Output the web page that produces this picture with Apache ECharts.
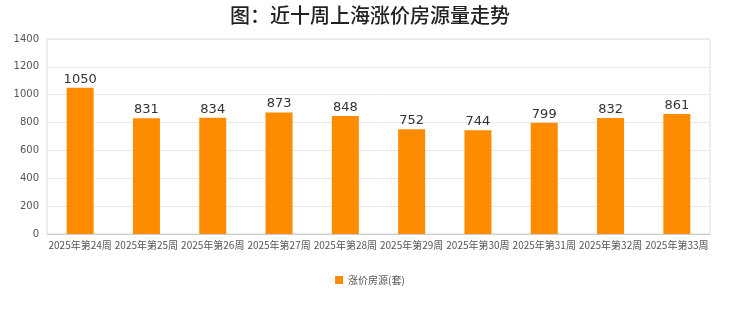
<!DOCTYPE html>
<html><head><meta charset="utf-8">
<script src="https://cdn.jsdelivr.net/npm/echarts@6/dist/echarts.min.js"></script>
<style>html,body{margin:0;padding:0;background:#fff}#c{width:740px;height:312px}</style>
</head><body><div id="c"></div>
<script>
const categories = ['2025年第24周','2025年第25周','2025年第26周','2025年第27周','2025年第28周','2025年第29周','2025年第30周','2025年第31周','2025年第32周','2025年第33周'];
const values = [1050, 831, 834, 873, 848, 752, 744, 799, 832, 861];
const seriesName = '涨价房源(套)';
const titleText = '图：近十周上海涨价房源量走势';

const chart = echarts.init(document.getElementById('c'));
chart.setOption({
  animation: false,
  backgroundColor: '#fff',
  title: { text: titleText, left: 'center', top: 0,
    textStyle: { fontSize: 20, fontWeight: 500, color: '#222', fontFamily: 'Noto Sans CJK SC' } },
  grid: { left: 47, right: 30, top: 39, bottom: 78, show: true, borderColor: '#ddd', borderWidth: 1 },
  legend: { bottom: 22, left: 'center', itemWidth: 8, itemHeight: 8, icon: 'rect',
    textStyle: { fontSize: 10, color: '#555', fontFamily: 'Noto Sans CJK SC' }, data: [seriesName] },
  xAxis: { type: 'category', data: categories,
    axisLine: { lineStyle: { color: '#ccc' } }, axisTick: { show: false },
    axisLabel: { fontSize: 10, color: '#555', interval: 0, margin: 6, fontFamily: 'Noto Sans CJK SC' } },
  yAxis: { type: 'value', min: 0, max: 1400, interval: 200,
    axisLine: { show: false }, axisTick: { show: false },
    axisLabel: { fontSize: 10, color: '#555', margin: 8, fontFamily: 'DejaVu Sans', formatter: v => String(v) },
    splitLine: { lineStyle: { color: '#e8e8e8' } } },
  series: [{ name: seriesName, type: 'bar', data: values, barWidth: 27,
    itemStyle: { color: '#FF8C00' },
    label: { show: true, position: 'top', fontSize: 13, color: '#333', distance: 2, fontFamily: 'DejaVu Sans' } }]
});
</script></body></html>
